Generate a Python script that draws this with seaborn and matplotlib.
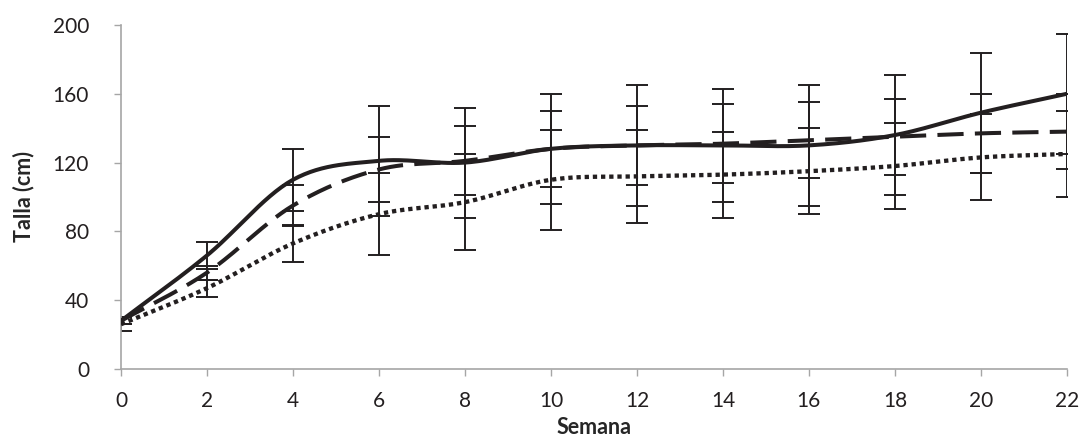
import numpy as np
import pandas as pd
import seaborn as sns
import matplotlib.pyplot as plt

# Data
semana = [0, 2, 4, 6, 8, 10, 12, 14, 16, 18, 20, 22]
talla_a = [28, 66, 110, 121, 120, 128, 130, 130, 130, 136, 149, 160]
talla_b = [28, 56, 95, 116, 121, 128, 130, 131, 133, 135, 137, 138]
talla_c = [26, 47, 73, 90, 97, 110, 112, 113, 115, 118, 123, 125]
err_a = [2, 8, 18, 32, 32, 32, 35, 33, 35, 35, 35, 35]
err_b = [2, 4, 12, 19, 20, 22, 23, 23, 22, 22, 23, 22]
err_c = [4, 5, 11, 24, 28, 29, 27, 25, 25, 25, 25, 25]


def smooth(x, y, n=30):
    # Catmull-Rom curve through the points, like a smoothed spreadsheet line
    x = np.asarray(x, float)
    y = np.asarray(y, float)
    px = np.concatenate([[2 * x[0] - x[1]], x, [2 * x[-1] - x[-2]]])
    py = np.concatenate([[2 * y[0] - y[1]], y, [2 * y[-1] - y[-2]]])
    xs, ys = [], []
    t = np.linspace(0, 1, n, endpoint=False)
    for i in range(1, len(px) - 2):
        for p, out in ((px, xs), (py, ys)):
            p0, p1, p2, p3 = p[i - 1], p[i], p[i + 1], p[i + 2]
            out.extend(0.5 * ((2 * p1) + (-p0 + p2) * t
                              + (2 * p0 - 5 * p1 + 4 * p2 - p3) * t ** 2
                              + (-p0 + 3 * p1 - 3 * p2 + p3) * t ** 3))
    xs.append(x[-1])
    ys.append(y[-1])
    return np.array(xs), np.array(ys)


sns.set_style("white")
plt.rcParams["font.family"] = ["Lato", "DejaVu Sans"]

fig = plt.figure(figsize=(10.82, 4.36), dpi=100)
ax = fig.add_axes([0.1118, 0.1537, 0.8742, 0.789])

styles = [
    (talla_a, err_a, dict(linestyle="-", linewidth=2.9)),
    (talla_b, err_b, dict(linestyle=(0, (6.5, 2.8)), linewidth=2.9)),
    (talla_c, err_c, dict(linestyle=(0, (1, 0.9)), dash_capstyle="butt", linewidth=3.1)),
]

for vals, errs, ls in styles:
    ax.errorbar(semana, vals, yerr=errs, fmt="none", ecolor="#231f20",
                elinewidth=1.4, capsize=8, capthick=1.4, zorder=2)
    sx, sy = smooth(semana, vals)
    df = pd.DataFrame({"semana": sx, "talla": sy})
    sns.lineplot(data=df, x="semana", y="talla", ax=ax, color="#231f20",
                 sort=False, estimator=None, zorder=3, **ls)

ax.set_xlim(0, 22)
ax.set_ylim(0, 200)
ax.set_xticks(semana)
ax.set_yticks([0, 40, 80, 120, 160, 200])
ax.tick_params(axis="both", labelsize=15, colors="#a6a6a6", labelcolor="#231f20",
               length=5, width=1, direction="out", left=True, bottom=True)
ax.tick_params(axis="y", pad=18)
ax.tick_params(axis="x", pad=11)

for side in ["top", "right"]:
    ax.spines[side].set_visible(False)
for side in ["left", "bottom"]:
    ax.spines[side].set_color("#a6a6a6")
    ax.spines[side].set_linewidth(1.2)

ax.set_xlabel("Semana", fontsize=15.5, fontweight="bold", labelpad=4)
ax.set_ylabel("Talla (cm)", fontsize=15.5, fontweight="bold", labelpad=13)

fig.savefig("out.png", dpi=100)
